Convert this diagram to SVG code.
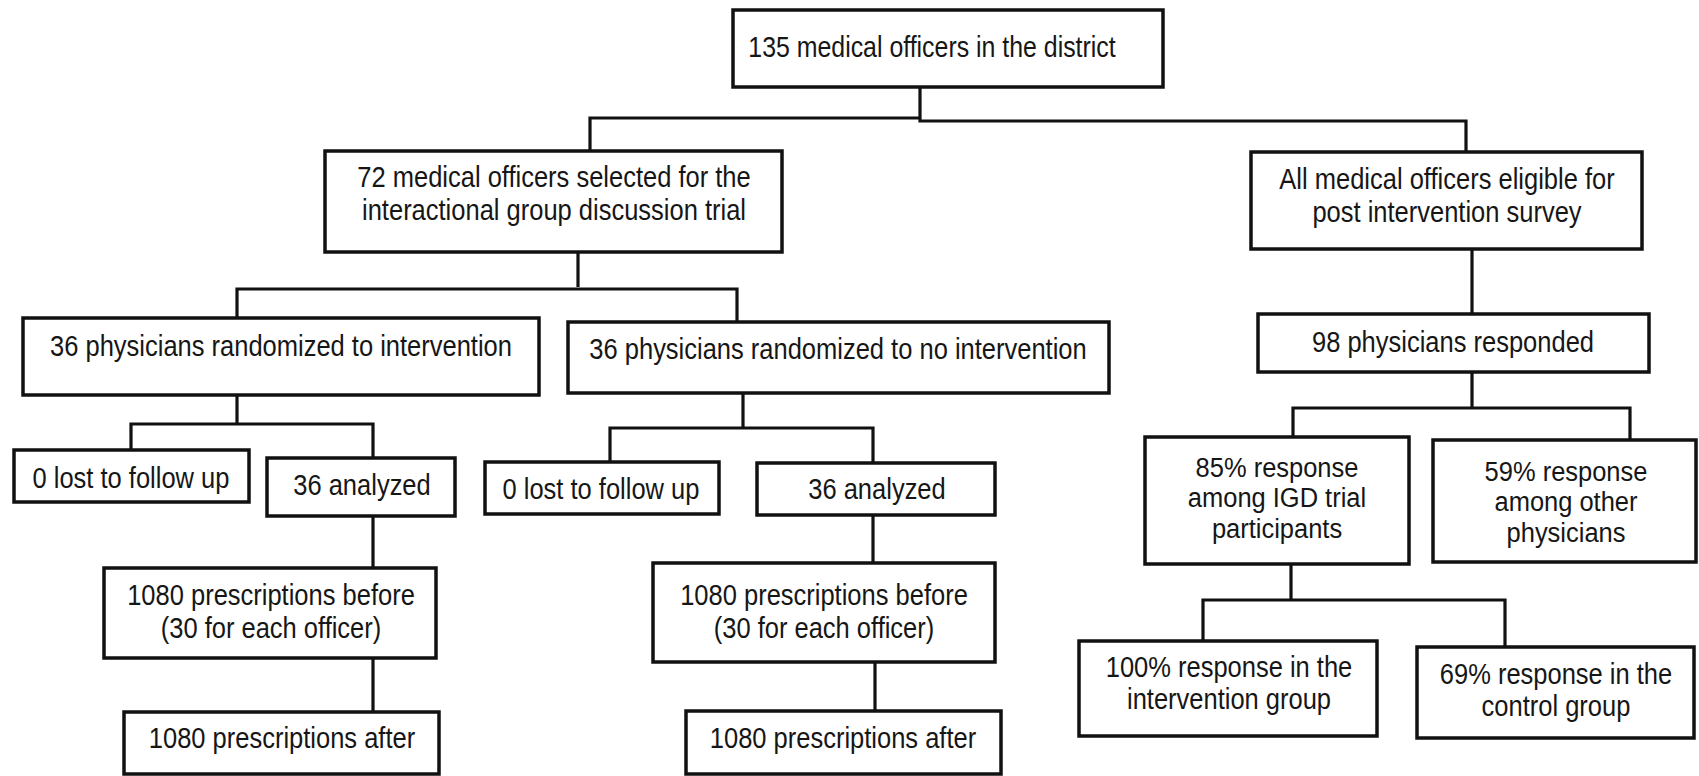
<svg xmlns="http://www.w3.org/2000/svg" width="1699" height="776" viewBox="0 0 1699 776">
<style>
.box{fill:#ffffff;stroke:#111111;stroke-width:3.5}
.t{font-family:"Liberation Sans",Arial,sans-serif;font-size:30px;fill:#161616;text-anchor:middle}
.s{font-size:28px}
.c{fill:none;stroke:#111111;stroke-width:3.2}
</style>
<rect width="1699" height="776" fill="#ffffff"/>
<g id="connectors">
<path class="c" d="M920,87 V120 M590,151 V118 H920 V121 H1466 V152"/>
<path class="c" d="M578,252 V287 M237,318 V289 H737 V322"/>
<path class="c" d="M1472,249 V314"/>
<path class="c" d="M237,395 V425 M131,450 V424 H373 V458"/>
<path class="c" d="M373,516 V568 M373,658 V712"/>
<path class="c" d="M743,393 V428 M610,462 V428 H873 V463"/>
<path class="c" d="M873,515 V563 M875,662 V711"/>
<path class="c" d="M1472,372 V408 M1293,437 V408 H1630 V440"/>
<path class="c" d="M1291,564 V600 M1203,641 V600 H1505 V647"/>
</g>
<g id="n1"><rect class="box" x="733" y="10" width="430" height="77"/><text class="t" transform="translate(932 57) scale(0.83 1)">135 medical officers in the district</text></g>
<g id="n2"><rect class="box" x="325" y="151" width="457" height="101"/><text class="t" transform="translate(554 187) scale(0.85 1)"><tspan x="0" y="0">72 medical officers selected for the</tspan><tspan x="0" y="33">interactional group discussion trial</tspan></text></g>
<g id="n3"><rect class="box" x="1251" y="152" width="391" height="97"/><text class="t" transform="translate(1447 189) scale(0.85 1)"><tspan x="0" y="0">All medical officers eligible for</tspan><tspan x="0" y="33">post intervention survey</tspan></text></g>
<g id="n4"><rect class="box" x="23" y="318" width="516" height="77"/><text class="t" transform="translate(281 356) scale(0.85 1)">36 physicians randomized to intervention</text></g>
<g id="n5"><rect class="box" x="568" y="322" width="541" height="71"/><text class="t" transform="translate(838 359) scale(0.85 1)">36 physicians randomized to no intervention</text></g>
<g id="n6"><rect class="box" x="1258" y="314" width="391" height="58"/><text class="t" transform="translate(1453 352) scale(0.85 1)">98 physicians responded</text></g>
<g id="n7"><rect class="box" x="14" y="450" width="235" height="52"/><text class="t" transform="translate(131 488) scale(0.85 1)">0 lost to follow up</text></g>
<g id="n8"><rect class="box" x="267" y="458" width="188" height="58"/><text class="t" transform="translate(362 495) scale(0.85 1)">36 analyzed</text></g>
<g id="n9"><rect class="box" x="485" y="462" width="234" height="52"/><text class="t" transform="translate(601 499) scale(0.85 1)">0 lost to follow up</text></g>
<g id="n10"><rect class="box" x="757" y="463" width="238" height="52"/><text class="t" transform="translate(877 499) scale(0.85 1)">36 analyzed</text></g>
<g id="n11"><rect class="box" x="104" y="568" width="332" height="90"/><text class="t" transform="translate(271 605) scale(0.85 1)"><tspan x="0" y="0">1080 prescriptions before</tspan><tspan x="0" y="33">(30 for each officer)</tspan></text></g>
<g id="n12"><rect class="box" x="653" y="563" width="342" height="99"/><text class="t" transform="translate(824 605) scale(0.85 1)"><tspan x="0" y="0">1080 prescriptions before</tspan><tspan x="0" y="33">(30 for each officer)</tspan></text></g>
<g id="n13"><rect class="box" x="124" y="712" width="315" height="62"/><text class="t" transform="translate(282 748) scale(0.85 1)">1080 prescriptions after</text></g>
<g id="n14"><rect class="box" x="686" y="711" width="315" height="63"/><text class="t" transform="translate(843 748) scale(0.85 1)">1080 prescriptions after</text></g>
<g id="n15"><rect class="box" x="1145" y="437" width="264" height="127"/><text class="t s" transform="translate(1277 477) scale(0.91 1)"><tspan x="0" y="0">85% response</tspan><tspan x="0" y="30.5">among IGD trial</tspan><tspan x="0" y="61">participants</tspan></text></g>
<g id="n16"><rect class="box" x="1433" y="440" width="263" height="122"/><text class="t s" transform="translate(1566 481) scale(0.91 1)"><tspan x="0" y="0">59% response</tspan><tspan x="0" y="30.5">among other</tspan><tspan x="0" y="61">physicians</tspan></text></g>
<g id="n17"><rect class="box" x="1079" y="641" width="298" height="95"/><text class="t" transform="translate(1229 677) scale(0.85 1)"><tspan x="0" y="0">100% response in the</tspan><tspan x="0" y="32">intervention group</tspan></text></g>
<g id="n18"><rect class="box" x="1417" y="647" width="277" height="91"/><text class="t" transform="translate(1556 684) scale(0.85 1)"><tspan x="0" y="0">69% response in the</tspan><tspan x="0" y="32">control group</tspan></text></g>
</svg>
